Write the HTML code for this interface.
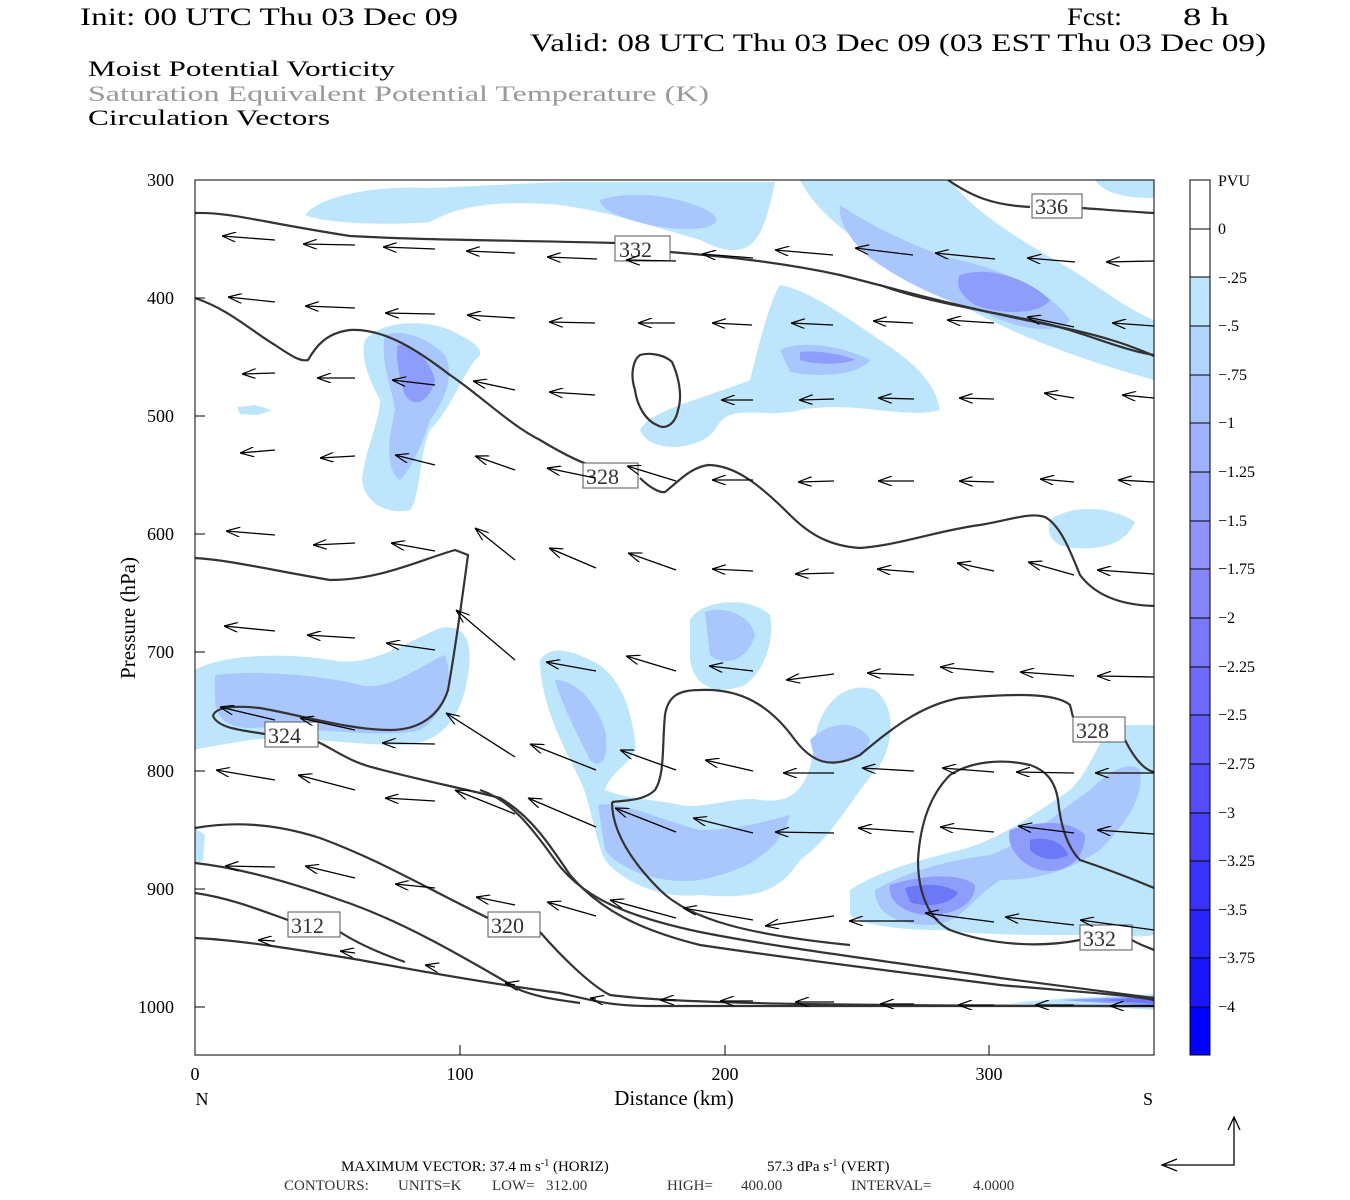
<!DOCTYPE html>
<html><head><meta charset="utf-8"><style>html,body{margin:0;padding:0;background:#fff}svg{display:block}</style></head>
<body>
<svg width="1350" height="1200" viewBox="0 0 1350 1200" xmlns="http://www.w3.org/2000/svg" font-family="Liberation Serif, serif">
<defs>
<marker id="ah" markerWidth="14" markerHeight="10" refX="0" refY="5" orient="auto" markerUnits="userSpaceOnUse">
<path d="M14,0 L0,5 L14,10" fill="none" stroke="#000" stroke-width="1.2"/>
</marker>
<clipPath id="pc"><rect x="195" y="180" width="959" height="875"/></clipPath>
</defs>
<rect width="1350" height="1200" fill="#fff"/>
<!-- header -->
<text x="80" y="25" font-size="25" textLength="378" lengthAdjust="spacingAndGlyphs">Init: 00 UTC Thu 03 Dec 09</text>
<text x="1067" y="25" font-size="25" textLength="55" lengthAdjust="spacingAndGlyphs">Fcst:</text>
<text x="1183" y="25" font-size="25" textLength="46" lengthAdjust="spacingAndGlyphs">8 h</text>
<text x="530" y="51" font-size="25" textLength="736" lengthAdjust="spacingAndGlyphs">Valid: 08 UTC Thu 03 Dec 09 (03 EST Thu 03 Dec 09)</text>
<text x="88" y="76" font-size="22" textLength="307" lengthAdjust="spacingAndGlyphs">Moist Potential Vorticity</text>
<text x="88" y="101" font-size="22" fill="#999" textLength="621" lengthAdjust="spacingAndGlyphs">Saturation Equivalent Potential Temperature (K)</text>
<text x="88" y="125" font-size="22" textLength="242" lengthAdjust="spacingAndGlyphs">Circulation Vectors</text>

<g clip-path="url(#pc)">
<!-- shading light -->
<g fill="#bde6fc">
<path d="M305,215 C320,195 380,185 430,188 L560,182 L775,182 L770,205 C760,240 750,265 700,240 C650,225 600,210 560,205 C500,200 460,205 430,222 C400,225 330,225 305,215Z"/>
<path d="M800,180 L950,180 C980,220 1040,250 1080,275 C1110,295 1130,310 1154,320 L1154,380 C1100,365 1040,345 990,320 C930,290 880,260 850,235 C825,215 810,200 800,180Z"/>
<path d="M1095,180 L1154,180 L1154,198 C1130,198 1105,195 1095,180Z"/>
<path d="M780,285 C810,290 850,320 880,340 C910,360 935,380 940,410 C900,420 860,400 800,410 C760,420 730,400 715,430 C700,450 650,455 640,430 C650,410 700,400 750,380 C760,340 770,300 780,285Z"/>
<path d="M365,340 C380,322 420,318 450,330 C470,340 490,350 475,360 C460,380 450,410 430,430 C420,450 420,500 410,510 C390,515 365,505 362,480 C365,450 380,420 380,400 C370,380 360,360 365,340Z"/>
<path d="M237,407 L255,405 L272,410 L258,415 L240,414Z"/>
<path d="M1050,520 C1070,505 1110,505 1135,522 C1125,545 1100,550 1075,548 C1055,548 1045,535 1050,520Z"/>
<path d="M690,620 C700,600 750,595 770,615 C775,640 765,670 745,685 C720,695 695,690 690,660Z"/>
<path d="M195,670 C220,655 280,652 330,660 C370,668 400,645 440,628 C470,622 475,650 465,690 C455,730 430,745 400,745 C350,745 300,735 250,740 C220,745 200,748 195,750Z"/>
<path d="M540,660 C550,645 570,650 590,660 C615,670 630,700 635,740 C640,760 610,770 605,790 C630,800 660,800 680,805 C700,810 740,795 760,800 C800,805 810,780 815,740 C820,700 850,680 875,690 C895,705 895,740 880,765 C850,800 830,840 800,860 C780,890 760,900 700,895 C660,900 620,880 605,860 C595,840 590,800 580,780 C560,740 540,700 540,660Z"/>
<path d="M195,828 L205,835 L203,860 L195,865Z"/>
<path d="M850,890 C880,870 920,860 960,850 C1000,840 1040,810 1070,790 C1090,770 1100,740 1110,725 L1154,725 L1154,935 C1130,940 1110,930 1080,935 C1030,935 980,935 940,930 C900,930 860,925 850,915Z"/>
<path d="M1010,1003 C1060,998 1110,996 1154,994 L1154,1010 C1100,1006 1050,1006 1010,1003Z"/>
</g>
<!-- medium -->
<g fill="#a9c6fd">
<path d="M600,200 C630,190 680,195 710,212 C730,225 700,235 650,225 C620,218 600,210 600,200Z"/>
<path d="M840,205 C870,225 910,245 950,258 C1000,268 1050,290 1070,320 C1060,335 1020,330 990,315 C940,300 900,280 870,258 C850,240 838,222 840,205Z"/>
<path d="M385,335 C405,328 430,340 445,355 C455,375 445,400 430,420 C420,450 410,470 400,480 C385,470 388,440 395,410 C390,380 380,360 385,335Z"/>
<path d="M780,350 C800,340 840,345 870,360 C860,375 820,378 790,372Z"/>
<path d="M215,675 C260,670 320,675 360,685 C390,692 420,665 445,655 C455,680 445,715 420,730 C380,740 300,725 250,728 C225,728 215,715 215,700Z"/>
<path d="M705,612 C725,605 750,615 755,635 C748,660 725,668 710,655Z"/>
<path d="M555,680 C575,680 595,700 605,730 C610,760 600,770 590,760 C575,730 560,700 555,680Z"/>
<path d="M598,805 C620,800 660,820 700,830 C740,830 770,820 790,815 C780,850 750,870 700,880 C660,885 620,870 605,850Z"/>
<path d="M810,740 C830,720 860,720 870,740 C865,760 840,765 815,760Z"/>
<path d="M875,890 C910,870 950,860 990,855 C1030,840 1060,810 1090,790 C1110,770 1130,760 1140,770 C1145,800 1120,830 1100,850 C1070,870 1040,880 1000,880 C970,900 960,925 930,925 C900,925 875,915 875,890Z"/>
</g>
<!-- darker -->
<g fill="#8e9dfb">
<path d="M960,275 C990,265 1030,280 1050,300 C1040,315 1000,315 975,305 C960,295 955,285 960,275Z"/>
<path d="M398,345 C412,342 430,360 435,380 C430,400 415,410 405,395 C400,380 395,360 398,345Z"/>
<path d="M800,352 C820,350 845,355 855,360 C840,365 815,365 800,360Z"/>
<path d="M890,885 C920,875 960,872 975,885 C975,905 955,915 925,915 C900,912 888,900 890,885Z"/>
<path d="M1010,830 C1040,820 1070,820 1085,835 C1085,860 1065,875 1040,870 C1020,865 1005,845 1010,830Z"/>
<path d="M1060,1000 L1154,996 L1154,1006 Z"/>
</g>
<g fill="#6b78f7">
<path d="M905,888 C925,882 950,885 958,893 C950,905 925,908 910,902Z"/>
<path d="M1030,840 C1050,835 1065,845 1068,855 C1055,862 1040,860 1030,850Z"/>
<path d="M1100,1000 L1154,997 L1154,1004 Z"/>
</g>

<!-- contours -->
<g fill="none" stroke="#333" stroke-width="2.2">
<path d="M948,180 C970,195 990,205 1030,207 M1082,208 C1110,210 1135,212 1154,213"/>
<path d="M195,213 C230,212 260,222 350,236 C420,240 500,240 615,243 M670,252 C720,256 780,262 840,275 C900,290 950,305 1050,325 C1100,335 1130,345 1154,356"/>
<path d="M880,285 C920,300 980,310 1030,320 C1080,330 1120,350 1154,355"/>
<path d="M195,298 C230,310 250,330 275,345 C290,355 300,362 308,360 C315,348 325,333 350,330 C385,328 420,352 450,375 C480,395 510,425 540,440 C565,455 580,462 590,465 M640,478 C650,488 660,493 665,492 C680,480 690,468 708,465 C735,465 760,485 790,515 C810,535 830,546 860,548 C900,545 940,530 980,525 C1010,520 1030,512 1045,517 C1060,525 1070,550 1080,575 C1095,595 1120,605 1154,606"/>
<path d="M640,355 C650,352 665,355 672,362 C678,375 683,395 678,410 C675,425 665,430 657,425 C645,420 637,405 635,390 C630,375 633,360 640,355Z"/>
<path d="M195,558 C230,560 270,570 330,580 C380,580 420,560 455,550 L468,555 C462,600 455,650 448,690 C440,715 420,730 390,730 C350,730 300,715 260,708 C230,705 215,708 213,716 C218,728 240,730 265,734 M318,742 C335,750 350,762 375,768 C420,780 470,790 500,798 C530,815 550,845 570,875 C600,910 640,930 700,945 C800,960 900,972 1000,985 C1080,992 1130,995 1154,1000"/>
<path d="M195,828 C230,822 270,822 320,838 C380,860 430,890 488,918 M540,932 C560,955 590,985 610,995 C650,1000 700,1002 800,1004 C950,1006 1080,1006 1154,1006"/>
<path d="M195,863 C240,868 290,882 340,900 C400,920 460,955 520,990 C540,998 560,1000 580,1003"/>
<path d="M195,893 C230,898 260,910 288,920 M340,932 C360,945 385,955 405,962"/>
<path d="M195,938 C240,940 300,950 360,960 C440,975 500,985 560,993 C590,1000 610,1006 650,1006 L1154,1006"/>
<path d="M480,790 C510,800 530,825 555,860 C580,895 620,915 700,932 C780,948 880,960 1000,978 C1080,988 1130,995 1154,998"/>
<path d="M612,802 C630,800 645,800 655,790 C665,775 662,745 665,715 C668,695 680,690 700,690 C740,688 770,705 795,740 C812,762 830,770 860,755 C890,730 920,705 960,698 C1010,694 1055,692 1070,705 L1073,717 M1125,740 C1135,760 1145,770 1154,772"/>
<path d="M612,802 C612,830 630,860 660,890 C690,920 750,935 850,945"/>
<path d="M1154,888 C1135,880 1110,870 1080,860 C1065,845 1060,820 1058,800 C1055,780 1045,770 1030,765 C1000,758 970,762 950,775 C930,795 920,825 918,860 C918,895 930,920 950,930 C990,945 1040,948 1080,940 M1132,940 C1140,945 1150,948 1154,950"/>
</g>
<!-- contour labels -->
<g font-size="22" fill="#333">
<rect x="615" y="236" width="55" height="25" fill="#fff" stroke="#555"/><text x="619" y="257">332</text>
<rect x="1032" y="194" width="50" height="24" fill="#fff" stroke="#555"/><text x="1035" y="214">336</text>
<rect x="583" y="463" width="55" height="25" fill="#fff" stroke="#555"/><text x="586" y="484">328</text>
<rect x="265" y="722" width="53" height="25" fill="#fff" stroke="#555"/><text x="268" y="743">324</text>
<rect x="1073" y="717" width="52" height="25" fill="#fff" stroke="#555"/><text x="1076" y="738">328</text>
<rect x="288" y="912" width="52" height="25" fill="#fff" stroke="#555"/><text x="291" y="933">312</text>
<rect x="488" y="912" width="52" height="25" fill="#fff" stroke="#555"/><text x="491" y="933">320</text>
<rect x="1080" y="925" width="52" height="25" fill="#fff" stroke="#555"/><text x="1083" y="946">332</text>
</g>

<!-- vectors -->
<g stroke="#000" stroke-width="1.3" marker-start="url(#ah)">
<line x1="222" y1="236" x2="275" y2="240"/><line x1="303" y1="244" x2="355" y2="245"/><line x1="383" y1="247" x2="435" y2="249"/><line x1="466" y1="251" x2="515" y2="253"/><line x1="547" y1="257" x2="597" y2="259"/><line x1="626" y1="260" x2="676" y2="261"/><line x1="702" y1="254" x2="753" y2="258"/><line x1="775" y1="250" x2="833" y2="255"/><line x1="855" y1="248" x2="913" y2="255"/><line x1="935" y1="253" x2="995" y2="259"/><line x1="1027" y1="258" x2="1075" y2="262"/><line x1="1106" y1="262" x2="1154" y2="261"/>
<line x1="228" y1="297" x2="275" y2="302"/><line x1="305" y1="306" x2="355" y2="308"/><line x1="385" y1="313" x2="435" y2="314"/><line x1="467" y1="315" x2="515" y2="318"/><line x1="549" y1="322" x2="595" y2="323"/><line x1="638" y1="323" x2="675" y2="323"/><line x1="712" y1="323" x2="752" y2="325"/><line x1="791" y1="323" x2="833" y2="325"/><line x1="873" y1="321" x2="913" y2="323"/><line x1="947" y1="320" x2="994" y2="323"/><line x1="1027" y1="317" x2="1074" y2="327"/><line x1="1112" y1="323" x2="1154" y2="326"/>
<line x1="242" y1="374" x2="275" y2="373"/><line x1="317" y1="378" x2="355" y2="378"/><line x1="392" y1="380" x2="435" y2="385"/><line x1="473" y1="381" x2="515" y2="390"/><line x1="549" y1="392" x2="595" y2="395"/><line x1="721" y1="400" x2="753" y2="400"/><line x1="799" y1="400" x2="834" y2="399"/><line x1="878" y1="398" x2="914" y2="399"/><line x1="959" y1="398" x2="994" y2="399"/><line x1="1044" y1="393" x2="1074" y2="398"/><line x1="1122" y1="395" x2="1154" y2="398"/>
<line x1="240" y1="453" x2="275" y2="450"/><line x1="320" y1="458" x2="355" y2="456"/><line x1="395" y1="455" x2="435" y2="465"/><line x1="475" y1="456" x2="515" y2="470"/><line x1="547" y1="468" x2="595" y2="478"/><line x1="627" y1="466" x2="676" y2="481"/><line x1="712" y1="480" x2="753" y2="480"/><line x1="798" y1="482" x2="834" y2="481"/><line x1="878" y1="481" x2="914" y2="481"/><line x1="959" y1="481" x2="994" y2="482"/><line x1="1040" y1="479" x2="1074" y2="482"/><line x1="1118" y1="480" x2="1154" y2="482"/>
<line x1="226" y1="531" x2="275" y2="535"/><line x1="313" y1="545" x2="355" y2="543"/><line x1="391" y1="543" x2="435" y2="551"/><line x1="475" y1="528" x2="515" y2="560"/><line x1="549" y1="548" x2="596" y2="568"/><line x1="628" y1="553" x2="676" y2="570"/><line x1="712" y1="569" x2="753" y2="571"/><line x1="795" y1="574" x2="834" y2="573"/><line x1="877" y1="569" x2="914" y2="572"/><line x1="957" y1="563" x2="994" y2="571"/><line x1="1028" y1="562" x2="1074" y2="575"/><line x1="1097" y1="570" x2="1154" y2="574"/>
<line x1="224" y1="626" x2="275" y2="631"/><line x1="307" y1="635" x2="355" y2="638"/><line x1="386" y1="643" x2="435" y2="650"/><line x1="456" y1="610" x2="515" y2="660"/><line x1="546" y1="662" x2="596" y2="671"/><line x1="626" y1="656" x2="676" y2="671"/><line x1="709" y1="666" x2="753" y2="671"/><line x1="786" y1="680" x2="834" y2="674"/><line x1="867" y1="673" x2="914" y2="675"/><line x1="940" y1="667" x2="994" y2="672"/><line x1="1020" y1="672" x2="1074" y2="676"/><line x1="1097" y1="676" x2="1154" y2="677"/>
<line x1="220" y1="707" x2="275" y2="720"/><line x1="300" y1="718" x2="355" y2="730"/><line x1="382" y1="743" x2="435" y2="744"/><line x1="446" y1="713" x2="515" y2="757"/><line x1="530" y1="744" x2="596" y2="770"/><line x1="620" y1="750" x2="676" y2="770"/><line x1="705" y1="760" x2="753" y2="771"/><line x1="783" y1="773" x2="834" y2="773"/><line x1="862" y1="768" x2="914" y2="771"/><line x1="942" y1="768" x2="994" y2="772"/><line x1="1016" y1="772" x2="1074" y2="773"/><line x1="1095" y1="773" x2="1154" y2="773"/>
<line x1="216" y1="770" x2="275" y2="780"/><line x1="298" y1="775" x2="355" y2="790"/><line x1="385" y1="798" x2="435" y2="801"/><line x1="455" y1="790" x2="515" y2="814"/><line x1="528" y1="798" x2="596" y2="827"/><line x1="615" y1="808" x2="676" y2="832"/><line x1="693" y1="818" x2="753" y2="833"/><line x1="775" y1="832" x2="834" y2="833"/><line x1="858" y1="828" x2="914" y2="832"/><line x1="940" y1="827" x2="994" y2="832"/><line x1="1018" y1="826" x2="1074" y2="833"/><line x1="1097" y1="830" x2="1154" y2="834"/>
<line x1="225" y1="866" x2="275" y2="867"/><line x1="305" y1="866" x2="355" y2="878"/><line x1="395" y1="884" x2="435" y2="888"/><line x1="476" y1="897" x2="515" y2="905"/><line x1="547" y1="902" x2="596" y2="916"/><line x1="610" y1="900" x2="676" y2="918"/><line x1="683" y1="908" x2="753" y2="920"/><line x1="765" y1="926" x2="834" y2="916"/><line x1="849" y1="921" x2="914" y2="921"/><line x1="925" y1="913" x2="994" y2="922"/><line x1="1005" y1="917" x2="1074" y2="925"/><line x1="1080" y1="920" x2="1154" y2="930"/>
<line x1="258" y1="940" x2="275" y2="941"/><line x1="340" y1="951" x2="355" y2="953"/><line x1="425" y1="965" x2="435" y2="967"/><line x1="505" y1="983" x2="515" y2="985"/><line x1="590" y1="998" x2="596" y2="999"/><line x1="660" y1="1000" x2="676" y2="1000"/><line x1="720" y1="1001" x2="753" y2="1001"/><line x1="795" y1="1002" x2="834" y2="1002"/><line x1="880" y1="1004" x2="914" y2="1004"/><line x1="958" y1="1005" x2="994" y2="1005"/><line x1="1035" y1="1005" x2="1074" y2="1005"/><line x1="1110" y1="1006" x2="1154" y2="1006"/>
</g>
</g>
<!-- frame -->
<rect x="195" y="180" width="959" height="875" fill="none" stroke="#000" stroke-width="1"/>
<g stroke="#000" stroke-width="1">
<line x1="195" y1="180" x2="205" y2="180"/><line x1="195" y1="298" x2="205" y2="298"/><line x1="195" y1="416" x2="205" y2="416"/><line x1="195" y1="534" x2="205" y2="534"/><line x1="195" y1="652" x2="205" y2="652"/><line x1="195" y1="771" x2="205" y2="771"/><line x1="195" y1="889" x2="205" y2="889"/><line x1="195" y1="1007" x2="205" y2="1007"/>
<line x1="460" y1="1055" x2="460" y2="1045"/><line x1="725" y1="1055" x2="725" y2="1045"/><line x1="989" y1="1055" x2="989" y2="1045"/>
</g>
<g font-size="18" text-anchor="end">
<text x="174" y="186">300</text><text x="174" y="304">400</text><text x="174" y="422">500</text><text x="174" y="540">600</text><text x="174" y="658">700</text><text x="174" y="777">800</text><text x="174" y="895">900</text><text x="174" y="1013">1000</text>
</g>
<g font-size="18" text-anchor="middle">
<text x="195" y="1080">0</text><text x="460" y="1080">100</text><text x="725" y="1080">200</text><text x="989" y="1080">300</text>
<text x="202" y="1105">N</text><text x="1148" y="1105">S</text>
<text x="674" y="1105" font-size="21">Distance (km)</text>
</g>
<text transform="translate(135,618) rotate(-90)" font-size="21" text-anchor="middle">Pressure (hPa)</text>

<!-- colorbar -->
<g stroke="#000" stroke-width="1">
<rect x="1190" y="180" width="20" height="97" fill="#fff"/>
<rect x="1190" y="277" width="20" height="49" fill="#bde6fc"/>
<rect x="1190" y="326" width="20" height="49" fill="#b0d4fd"/>
<rect x="1190" y="375" width="20" height="48" fill="#a7c3fe"/>
<rect x="1190" y="423" width="20" height="49" fill="#9fb1fe"/>
<rect x="1190" y="472" width="20" height="49" fill="#97a2fd"/>
<rect x="1190" y="521" width="20" height="48" fill="#8f93fd"/>
<rect x="1190" y="569" width="20" height="49" fill="#8685fc"/>
<rect x="1190" y="618" width="20" height="49" fill="#7a78fb"/>
<rect x="1190" y="667" width="20" height="48" fill="#6e6afb"/>
<rect x="1190" y="715" width="20" height="49" fill="#615cfb"/>
<rect x="1190" y="764" width="20" height="49" fill="#544efb"/>
<rect x="1190" y="813" width="20" height="48" fill="#4640fc"/>
<rect x="1190" y="861" width="20" height="49" fill="#3832fc"/>
<rect x="1190" y="910" width="20" height="48" fill="#2a24fd"/>
<rect x="1190" y="958" width="20" height="49" fill="#1a16fe"/>
<rect x="1190" y="1007" width="20" height="48" fill="#0000ff"/>
<line x1="1190" y1="229" x2="1210" y2="229"/>
</g>
<g font-size="16">
<text x="1218" y="186">PVU</text><text x="1218" y="234">0</text><text x="1218" y="283">−.25</text><text x="1218" y="331">−.5</text><text x="1218" y="380">−.75</text><text x="1218" y="428">−1</text><text x="1218" y="477">−1.25</text><text x="1218" y="526">−1.5</text><text x="1218" y="574">−1.75</text><text x="1218" y="623">−2</text><text x="1218" y="672">−2.25</text><text x="1218" y="720">−2.5</text><text x="1218" y="769">−2.75</text><text x="1218" y="818">−3</text><text x="1218" y="866">−3.25</text><text x="1218" y="915">−3.5</text><text x="1218" y="963">−3.75</text><text x="1218" y="1012">−4</text>
</g>
<!-- footer -->
<g font-size="15">
<text x="341" y="1171">MAXIMUM VECTOR:  37.4 m s<tspan dy="-5" font-size="10">-1</tspan><tspan dy="5"> (HORIZ)</tspan></text>
<text x="767" y="1171">57.3 dPa s<tspan dy="-5" font-size="10">-1</tspan><tspan dy="5"> (VERT)</tspan></text>
<g fill="#333">
<text x="284" y="1190">CONTOURS:</text>
<text x="398" y="1190">UNITS=K</text>
<text x="492" y="1190">LOW=</text>
<text x="546" y="1190">312.00</text>
<text x="667" y="1190">HIGH=</text>
<text x="741" y="1190">400.00</text>
<text x="851" y="1190">INTERVAL=</text>
<text x="973" y="1190">4.0000</text>
</g>
</g>
<g stroke="#000" stroke-width="1.3" fill="none">
<path d="M1234,1117 L1234,1165 L1162,1165"/>
<path d="M1228,1130 L1234,1117 L1240,1130"/>
<path d="M1177,1159 L1162,1165 L1177,1171"/>
</g>
</svg>
</body></html>
